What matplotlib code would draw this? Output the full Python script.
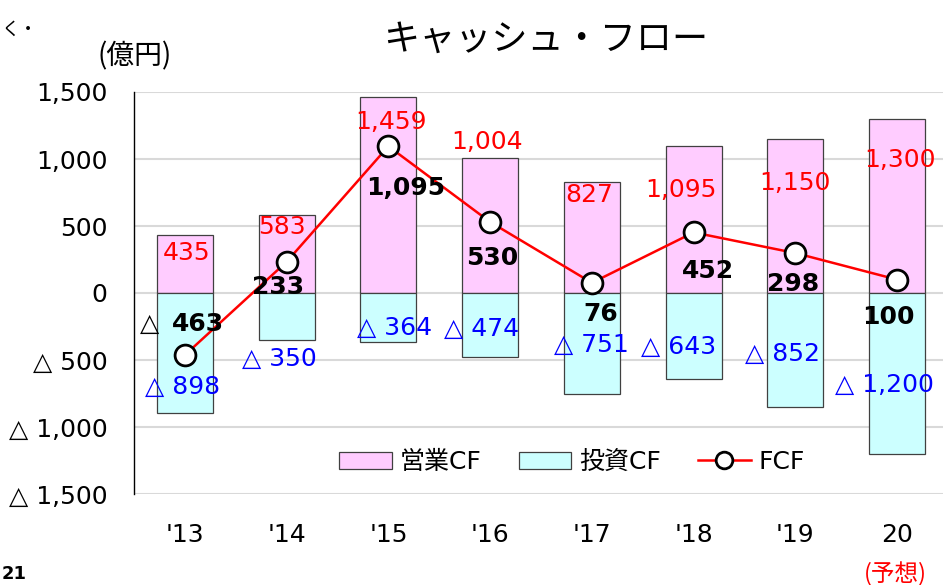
import numpy as np
import matplotlib
matplotlib.use('Agg')
import matplotlib.pyplot as plt
from matplotlib.patches import Patch
from matplotlib.lines import Line2D
from matplotlib.ticker import FuncFormatter

plt.rcParams['font.family'] = ['DejaVu Sans', 'Noto Sans CJK JP']

# data (億円)
years = ["'13", "'14", "'15", "'16", "'17", "'18", "'19", "20"]
op_cf = [435, 583, 1459, 1004, 827, 1095, 1150, 1300]
inv_cf = [-898, -350, -364, -474, -751, -643, -852, -1200]
fcf = [-463, 233, 1095, 530, 76, 452, 298, 100]

# label offsets in pixels from the value (layout only)
op_off = [(2, -18), (-5, -12), (3, -25), (-3, 16), (-3, -13), (-13, -44), (0, -44), (3, -41)]
inv_off = [(-2, 26), (-7, -19), (6, 14), (-9, 28), (-1, 49), (-15, 32), (-13, 53), (-13, 69)]
fcf_off = [(13, 31), (-9, -25), (17, -42), (2, -36), (9, -31), (14, -39), (-2, -31), (-9, -37)]

PINK = '#FFCCFF'
CYAN = '#CCFFFF'
EDGE = '#404040'
FS = 18


def fmt(v):
    """Excel style number, negatives with a triangle"""
    if v < 0:
        return '△ {:,}'.format(-int(v))
    return '{:,}'.format(int(v))


fig = plt.figure(figsize=(9.43, 5.85), dpi=100)
ax = fig.add_axes([134 / 943, 1 - 494 / 585, (948 - 134) / 943, (494 - 92) / 585])

x = np.arange(len(years))
ax.bar(x, op_cf, width=0.55, color=PINK, edgecolor=EDGE, linewidth=0.9, zorder=2)
ax.bar(x, inv_cf, width=0.55, color=CYAN, edgecolor=EDGE, linewidth=0.9, zorder=2)
ax.plot(x, fcf, color='red', linewidth=1.8, marker='o', markersize=15,
        markerfacecolor='white', markeredgecolor='black', markeredgewidth=2, zorder=4)

ax.set_xlim(-0.5, len(years) - 0.5)
ax.set_ylim(-1500, 1500)
ax.set_yticks(np.arange(-1500, 1501, 500))
ax.yaxis.set_major_formatter(FuncFormatter(lambda v, p: fmt(v)))
ax.set_xticks(x)
ax.set_xticklabels(years)
ax.tick_params(axis='y', length=0, pad=19, labelsize=FS)
ax.tick_params(axis='x', length=0, pad=21, labelsize=FS)

# grid lines
ax.set_axisbelow(True)
ax.yaxis.grid(True, color='#D9D9D9', linewidth=1.5)
for s in ['top', 'right', 'bottom']:
    ax.spines[s].set_visible(False)
ax.spines['left'].set_color('black')
ax.spines['left'].set_linewidth(1)

# value labels
for i in range(len(years)):
    ax.annotate(fmt(op_cf[i]), (x[i], op_cf[i]), xytext=op_off[i], textcoords='offset pixels',
                ha='center', va='center', color='red', fontsize=FS, zorder=5)
    ax.annotate(fmt(inv_cf[i]), (x[i], inv_cf[i]), xytext=inv_off[i], textcoords='offset pixels',
                ha='center', va='center', color='blue', fontsize=FS, zorder=5)
    ax.annotate('{:,}'.format(abs(fcf[i])), (x[i], fcf[i]), xytext=fcf_off[i], textcoords='offset pixels',
                ha='center', va='center', color='black', fontsize=FS, fontweight='bold', zorder=5)
    if fcf[i] < 0:
        ax.annotate('△', (x[i], fcf[i]), xytext=(fcf_off[i][0] - 48, fcf_off[i][1]),
                    textcoords='offset pixels', ha='center', va='center', color='black', fontsize=FS, zorder=5)

# legend
handles = [Patch(facecolor=PINK, edgecolor=EDGE, linewidth=0.9),
           Patch(facecolor=CYAN, edgecolor=EDGE, linewidth=0.9),
           Line2D([0], [0], color='red', linewidth=1.8, marker='o', markersize=12,
                  markerfacecolor='white', markeredgecolor='black', markeredgewidth=2)]
ax.legend(handles, ['営業CF', '投資CF', 'FCF'], loc='center', bbox_to_anchor=((572 - 134) / 814, (494 - 462) / 402),
          ncol=3, frameon=False, fontsize=FS, handlelength=2.1, handleheight=0.7,
          handletextpad=0.3, columnspacing=1.5, borderpad=0)

# texts around the chart
fig.text(546 / 943, 1 - 40 / 585, 'キャッシュ・フロー', ha='center', va='center',
         fontsize=26, family=['Noto Sans CJK JP'])
fig.text(135 / 943, 1 - 56 / 585, '(億円)', ha='center', va='center', fontsize=20,
         family=['Noto Sans CJK JP'])
fig.text(895 / 943, 1 - 574 / 585, '(予想)', ha='center', va='center', fontsize=17,
         color='red', family=['Noto Sans CJK JP'])
fig.text(2 / 943, 1 - 30 / 585, 'く・', ha='left', va='center', fontsize=13,
         family=['Noto Sans CJK JP'])
fig.text(2 / 943, 1 - 583 / 585, '21', ha='left', va='bottom', fontsize=13, fontweight='bold')

fig.savefig('out.png', dpi=100)
